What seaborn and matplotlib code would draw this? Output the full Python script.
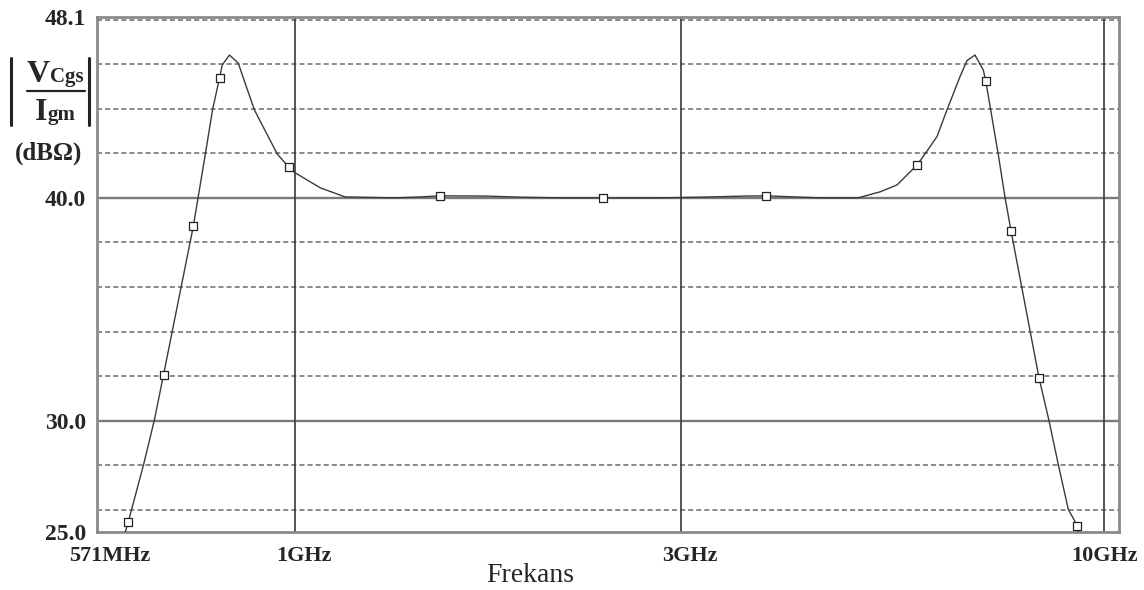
import matplotlib
matplotlib.use("Agg")
import numpy as np
import pandas as pd
import matplotlib.pyplot as plt
import seaborn as sns
from matplotlib.lines import Line2D
from matplotlib.ticker import NullLocator
import matplotlib.transforms as mtransforms

# ---------------- data ----------------
freq_ghz = [0.618, 0.623, 0.651, 0.671, 0.689, 0.750, 0.776, 0.792, 0.808, 0.814,
            0.831, 0.852, 0.892, 0.952, 0.983, 1.002, 1.076, 1.155,
            1.331, 1.429, 1.513, 1.720, 1.899, 2.128, 2.405, 2.829, 3.170,
            3.601, 3.823, 4.093, 4.457, 4.966,
            5.287, 5.548, 5.875, 6.005, 6.216, 6.395, 6.636, 6.769, 6.925,
            7.090, 7.139, 7.241, 7.398, 7.541, 7.671, 8.307, 8.547, 8.776,
            9.030, 9.263, 9.289]
gain_db = [25.00, 25.43, 28.03, 30.00, 32.06, 38.74, 41.97, 43.95, 45.39, 45.96,
           46.41, 46.05, 43.95, 41.97, 41.39, 41.12, 40.45, 40.04,
           40.00, 40.04, 40.09, 40.08, 40.03, 40.00, 40.00, 40.00, 40.03,
           40.08, 40.09, 40.05, 40.00, 40.00,
           40.27, 40.58, 41.48, 41.96, 42.75, 43.95, 45.44, 46.16, 46.41,
           45.74, 45.26, 43.95, 41.96, 40.04, 38.53, 31.93, 30.00, 28.03,
           26.01, 25.29, 25.00]

marker_freq_ghz = [0.623, 0.689, 0.750, 0.808, 0.983, 1.513, 2.405, 3.823,
                   5.875, 7.139, 7.671, 8.307, 9.263]
marker_gain_db = [25.43, 32.06, 38.74, 45.39, 41.39, 40.09, 40.00, 40.09,
                  41.48, 45.26, 38.53, 31.93, 25.29]

x_ticks = [0.5702, 1.0, 3.0, 10.0]
x_tick_labels = ["571MHz", "1GHz", "3GHz", "10GHz"]
y_ticks = [25.0, 30.0, 40.0, 48.1]
y_tick_labels = ["25.0", "30.0", "40.0", "48.1"]
y_major_grid = [30.0, 40.0]
y_minor_grid = [26, 28, 32, 34, 36, 38, 42, 44, 46, 48]
x_grid = [1.0, 3.0, 10.0]
x_label = "Frekans"

# ---------------- style ----------------
sns.set_style("white")
plt.rcParams["font.family"] = ["Liberation Serif", "DejaVu Serif"]

W, H = 1144, 590
fig = plt.figure(figsize=(W / 100, H / 100), dpi=100)
fig.patch.set_facecolor("white")

def fx(px):
    return px / W

def fy(py):
    return 1 - py / H

left, right, top, bottom = 97, 1119, 17.4, 532
ax = fig.add_axes([fx(left), fy(bottom), (right - left) / W, (bottom - top) / H])
ax.set_xscale("log")
ax.set_xlim(0.5702, 10.43)
ax.set_ylim(25.0, 48.1)

# grid lines
for y in y_minor_grid:
    ax.axhline(y, color="#6a6a6a", lw=1.1, ls=(0, (3.3, 2.0)), zorder=1)
for y in y_major_grid:
    ax.axhline(y, color="#7a7a7a", lw=1.7, zorder=1)
for x in x_grid:
    ax.axvline(x, color="#3a3a3a", lw=1.2, zorder=1)

df = pd.DataFrame({"f": freq_ghz, "g": gain_db})
sns.lineplot(data=df, x="f", y="g", color="#3a3a3a", linewidth=1.0,
             estimator=None, sort=False, ax=ax, zorder=3)
mk = pd.DataFrame({"f": marker_freq_ghz, "g": marker_gain_db})
sns.scatterplot(data=mk, x="f", y="g", marker="s", s=30, color="white",
                edgecolor="#222222", linewidth=0.9, ax=ax, zorder=5)

ax.set_xlabel("")
ax.set_ylabel("")
ax.xaxis.set_minor_locator(NullLocator())
ax.yaxis.set_minor_locator(NullLocator())
ax.set_xticks(x_ticks)
ax.set_xticklabels(x_tick_labels, fontsize=16, fontweight="bold")
ax.set_yticks(y_ticks)
ax.set_yticklabels(y_tick_labels, fontsize=17, fontweight="bold")
ax.tick_params(axis="x", length=4, width=1.2, color="#555555", pad=6)
ax.tick_params(axis="y", length=5, width=1.2, color="#555555", pad=3)

offsets = [13, 9, 9, 0]
for lab, dx in zip(ax.get_xticklabels(), offsets):
    lab.set_transform(lab.get_transform() +
                      mtransforms.ScaledTranslation(dx / 100, 0, fig.dpi_scale_trans))

for sp in ax.spines.values():
    sp.set_color("#8a8a8a")
    sp.set_linewidth(2.0)

# x label
fig.text(fx(530), fy(582), x_label, fontsize=20, ha="center", va="baseline")

# y label built from pieces: |V_Cgs / I_gm| (dBΩ)
fig.text(fx(27), fy(82), "V", fontsize=23, fontweight="bold", ha="left", va="baseline")
fig.text(fx(50), fy(82), "Cgs", fontsize=15, fontweight="bold", ha="left", va="baseline")
fig.text(fx(35), fy(120), "I", fontsize=23, fontweight="bold", ha="left", va="baseline")
fig.text(fx(48), fy(120), "gm", fontsize=15, fontweight="bold", ha="left", va="baseline")
fig.add_artist(Line2D([fx(27), fx(85)], [fy(91), fy(91)], color="#222222", lw=1.6))
fig.add_artist(Line2D([fx(11), fx(11)], [fy(58), fy(125)], color="#222222", lw=2.2))
fig.add_artist(Line2D([fx(89), fx(89)], [fy(58), fy(125)], color="#222222", lw=2.2))
fig.text(fx(49), fy(153), "(dBΩ)", fontsize=18, fontweight="bold", ha="center", va="center")

fig.savefig("out.png", dpi=100, facecolor="white")
